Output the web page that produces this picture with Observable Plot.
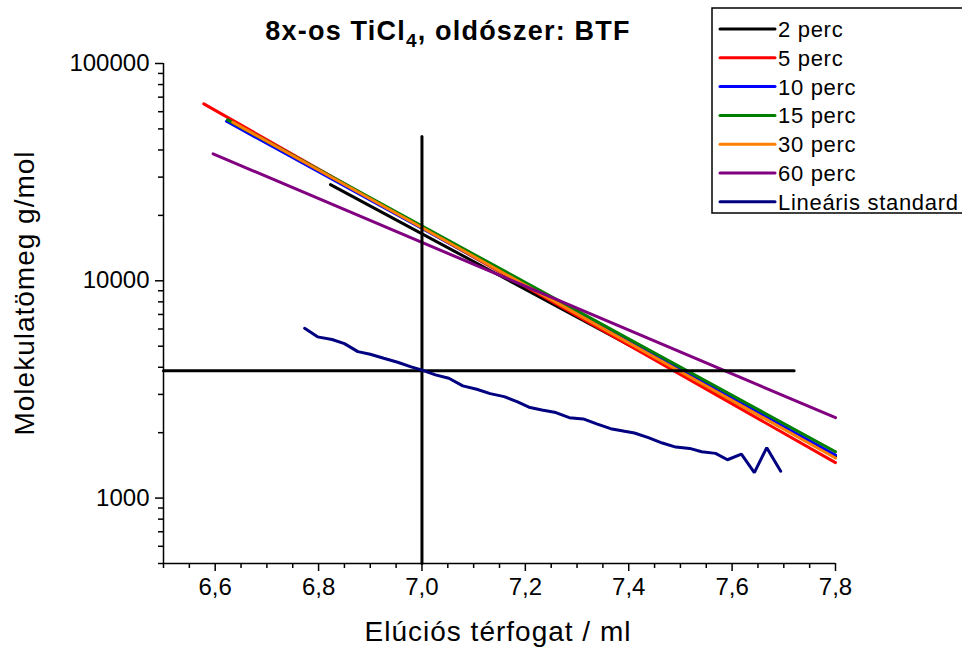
<!DOCTYPE html>
<html><head><meta charset="utf-8">
<script src="https://cdn.jsdelivr.net/npm/d3@7"></script>
<script src="https://cdn.jsdelivr.net/npm/@observablehq/plot@0.6"></script>
<style>body{margin:0;background:#fff} #chart{width:962px;height:648px}</style>
</head><body><div id="chart"></div>
<script>
// ---- data ----
const seriesNames = ["2 perc", "5 perc", "10 perc", "15 perc", "30 perc", "60 perc", "Lineáris standard"];
const seriesColors = ["#000000", "#ff0000", "#0000ff", "#008000", "#ff8000", "#800080", "#000080"];

const perc2X = [6.823, 7.8],  perc2Y = [27700, 1563];
const perc5X = [6.578, 7.8],  perc5Y = [65200, 1456];
const perc10X = [6.622, 7.8], perc10Y = [54200, 1579];
const perc15X = [6.624, 7.8], perc15Y = [55050, 1633];
const perc30X = [6.634, 7.8], perc30Y = [53640, 1529];
const perc60X = [6.596, 7.8], perc60Y = [38370, 2345];

const stdX = [6.773,6.798,6.826,6.850,6.876,6.900,6.926,6.953,6.979,6.999,7.026,7.052,7.079,7.106,7.132,7.159,7.185,7.207,7.232,7.259,7.285,7.312,7.338,7.365,7.392,7.411,7.438,7.465,7.491,7.518,7.541,7.568,7.591,7.618,7.643,7.667,7.694];
const stdY = [6050,5520,5370,5140,4720,4590,4400,4220,4015,3890,3690,3560,3285,3170,3025,2930,2770,2620,2545,2475,2345,2313,2194,2086,2029,1993,1897,1792,1717,1693,1634,1606,1501,1595,1309,1706,1330];

// reference cross lines
const vRefX = [7.0, 7.0],  vRefY = [500, 46100];
const hRefX = [6.5, 7.72], hRefY = [3850, 3850];

// axes
const xDomain = [6.5, 7.8];
const yDomain = [500, 100000];
const xMajorTicks = [6.6, 6.8, 7.0, 7.2, 7.4, 7.6, 7.8];
const xMinorTicks = [6.5, 6.55, 6.65, 6.7, 6.75, 6.85, 6.9, 6.95, 7.05, 7.1, 7.15, 7.25, 7.3, 7.35, 7.45, 7.5, 7.55, 7.65, 7.7, 7.75];
const yMajorTicks = [1000, 10000, 100000];
const yMinorTicks = [500, 600, 700, 800, 900, 2000, 3000, 4000, 5000, 6000, 7000, 8000, 9000, 20000, 30000, 40000, 50000, 60000, 70000, 80000, 90000];

// ---- build table ----
const lineXs = [perc2X, perc5X, perc10X, perc15X, perc30X, perc60X, stdX];
const lineYs = [perc2Y, perc5Y, perc10Y, perc15Y, perc30Y, perc60Y, stdY];
const rows = [];
lineXs.forEach((xs, i) => xs.forEach((x, j) => rows.push({series: seriesNames[i], x, y: lineYs[i][j]})));
const refRows = [
  ...vRefX.map((x, j) => ({id: "v", x, y: vRefY[j]})),
  ...hRefX.map((x, j) => ({id: "h", x, y: hRefY[j]}))
];

const FONT = "'Liberation Sans', Arial, Helvetica, sans-serif";
const fmtX = d => d.toFixed(1).replace(".", ",");

const plot = Plot.plot({
  width: 962, height: 648,
  marginLeft: 163, marginRight: 127, marginTop: 63, marginBottom: 85,
  style: {fontFamily: FONT, background: "#fff", color: "#000", overflow: "visible"},
  x: {domain: xDomain},
  y: {type: "log", domain: yDomain},
  color: {domain: seriesNames, range: seriesColors},
  marks: [
    Plot.axisX(xMinorTicks, {tickSize: 5, strokeWidth: 1.5, tickFormat: () => "", label: null}),
    Plot.axisX(xMajorTicks, {tickSize: 8, strokeWidth: 1.5, tickPadding: 6, fontSize: 24, tickFormat: fmtX, label: null}),
    Plot.axisY(yMinorTicks, {tickSize: 5, strokeWidth: 1.5, tickFormat: () => "", label: null}),
    Plot.axisY(yMajorTicks, {tickSize: 8, strokeWidth: 1.5, tickPadding: 6, fontSize: 24, tickFormat: d => String(d), label: null}),
    Plot.ruleX([xDomain[0]], {stroke: "#000", strokeWidth: 1.5}),
    Plot.ruleY([yDomain[0]], {stroke: "#000", strokeWidth: 1.5}),
    Plot.line(rows.filter(r => r.series !== "Lineáris standard"), {x: "x", y: "y", z: "series", stroke: "series", strokeWidth: 3, strokeLinecap: "round"}),
    Plot.line(refRows, {x: "x", y: "y", z: "id", stroke: "#000", strokeWidth: 3}),
    Plot.line(rows.filter(r => r.series === "Lineáris standard"), {x: "x", y: "y", stroke: "series", strokeWidth: 3, strokeLinejoin: "miter", strokeLinecap: "round"})
  ]
});

const svg = d3.select(plot);
svg.style("font-family", FONT);

// title
const title = svg.append("text")
  .attr("x", 448).attr("y", 40)
  .attr("text-anchor", "middle")
  .attr("font-size", 27).attr("font-weight", "bold").attr("fill", "#000")
  .attr("letter-spacing", "1.2px");
title.append("tspan").text("8x-os TiCl");
title.append("tspan").attr("font-size", 19).attr("dy", 7).text("4");
title.append("tspan").attr("dy", -7).text(", oldószer: BTF");

// axis titles
svg.append("text")
  .attr("transform", "translate(34,293) rotate(-90)")
  .attr("text-anchor", "middle").attr("font-size", 28).attr("letter-spacing", "1px").attr("fill", "#000")
  .text("Molekulatömeg g/mol");
svg.append("text")
  .attr("x", 498).attr("y", 641)
  .attr("text-anchor", "middle").attr("font-size", 28).attr("letter-spacing", "1px").attr("fill", "#000")
  .text("Elúciós térfogat / ml");

// legend
const lg = svg.append("g");
lg.append("rect").attr("x", 712).attr("y", 8).attr("width", 262).attr("height", 205)
  .attr("fill", "#fff").attr("stroke", "#000").attr("stroke-width", 1.5);
seriesNames.forEach((name, i) => {
  const yy = 29 + i * 28.8;
  lg.append("line").attr("x1", 720).attr("x2", 775).attr("y1", yy).attr("y2", yy)
    .attr("stroke", seriesColors[i]).attr("stroke-width", 3).attr("stroke-linecap", "round");
  lg.append("text").attr("x", 778).attr("y", yy).attr("dy", "0.36em")
    .attr("text-anchor", "start")
    .attr("font-size", 22).attr("letter-spacing", "0.7px").attr("fill", "#000").text(name);
});

document.getElementById("chart").appendChild(plot);
</script>
</body></html>
